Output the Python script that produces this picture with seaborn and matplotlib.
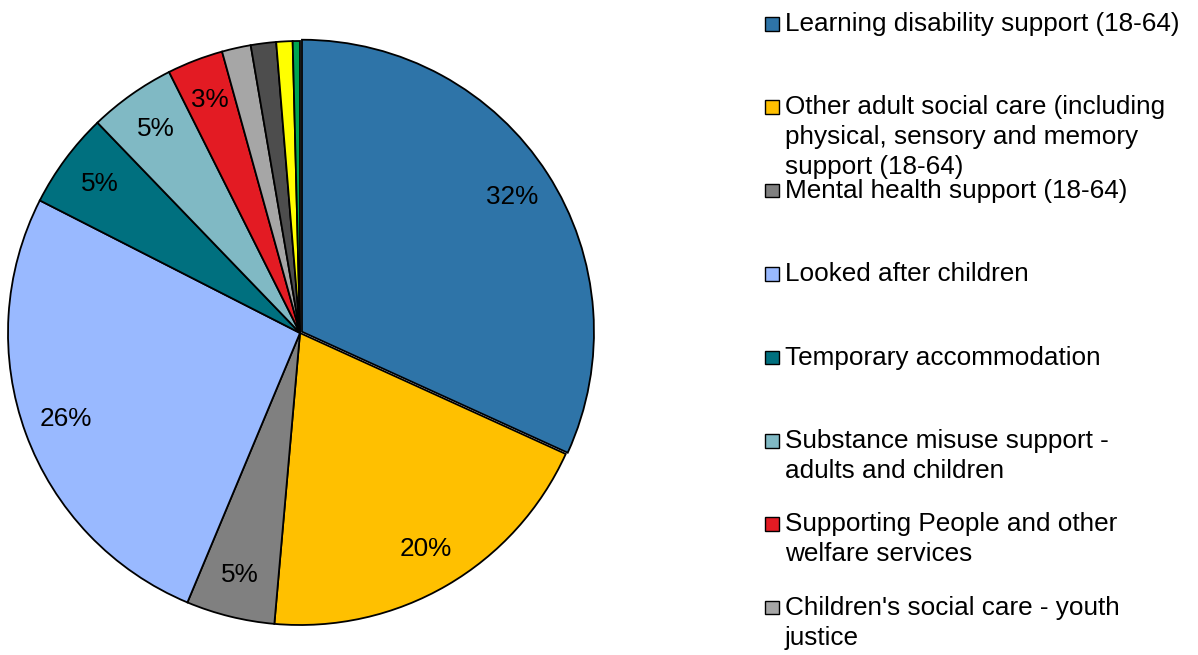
import matplotlib
matplotlib.use("Agg")
import matplotlib.pyplot as plt
import seaborn as sns
from matplotlib.patches import Rectangle

# slice order: clockwise from 12 o'clock
categories = [
    "Learning disability support (18-64)",
    "Other adult social care (including\nphysical, sensory and memory\nsupport (18-64)",
    "Mental health support (18-64)",
    "Looked after children",
    "Temporary accommodation",
    "Substance misuse support -\nadults and children",
    "Supporting People and other\nwelfare services",
    "Children's social care - youth\njustice",
    "Other (a)",
    "Other (b)",
    "Other (c)",
]
shares = [31.8, 19.6, 4.9, 26.2, 5.3, 4.8, 3.1, 1.6, 1.4, 0.9, 0.4]
colors = ["#2E74A8", "#FFC000", "#808080", "#99B9FF", "#00707F", "#80B9C4",
          "#E31B23", "#A6A6A6", "#4D4D4D", "#FFFF00", "#00A550"]
explode = [0.008] + [0] * 10

W, H = 1198, 655
sns.set_theme(style="white")
plt.rcParams["font.family"] = ["Liberation Sans", "DejaVu Sans"]

fig = plt.figure(figsize=(W / 100, H / 100), dpi=100)

# pie centre (300, 333) px, radius 292 px
R = 292
lim = 1.1
half = R * lim
cx, cy = 300, H - 333
ax = fig.add_axes([(cx - half) / W, (cy - half) / H, 2 * half / W, 2 * half / H])

palette = sns.color_palette(colors)
wedges, texts, autotexts = ax.pie(
    shares,
    colors=palette,
    explode=explode,
    startangle=90,
    counterclock=False,
    radius=1,
    autopct=lambda p: f"{p:.0f}%" if p >= 2.5 else "",
    pctdistance=0.855,
    wedgeprops=dict(edgecolor="black", linewidth=1.3),
    textprops=dict(fontsize=18.8, color="black"),
)
ax.set_xlim(-lim, lim)
ax.set_ylim(-lim, lim)
ax.set_aspect("equal")
ax.axis("off")

# legend, drawn by hand so entries keep equal spacing like the original
fs = 18.8
for i, (name, col) in enumerate(zip(categories, palette)):
    base = 31 + 83.4 * i
    if base > H + 40:
        break
    fig.patches.append(Rectangle((765 / W, 1 - (base - 0.5) / H), 13.5 / W, 13.5 / H,
                                 transform=fig.transFigure, facecolor=col,
                                 edgecolor="black", linewidth=1.0))
    for j, line in enumerate(name.split("\n")):
        fig.text(785 / W, 1 - (base + 30 * j) / H, line, fontsize=fs,
                 ha="left", va="baseline", color="black")

fig.savefig("out.png", dpi=100)
